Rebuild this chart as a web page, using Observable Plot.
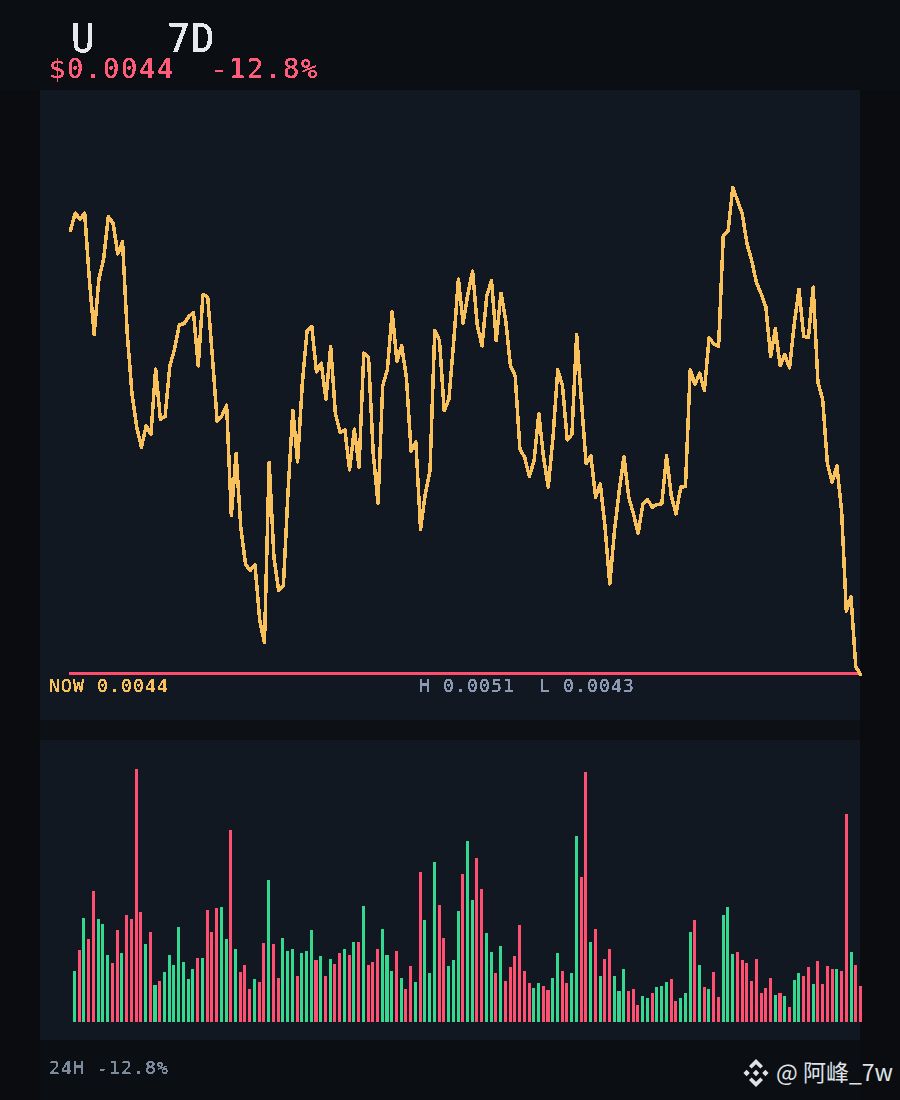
<!DOCTYPE html>
<html lang="en">
<head>
<meta charset="utf-8">
<title>U 7D</title>
<script src="https://cdn.jsdelivr.net/npm/d3@7"></script>
<script src="https://cdn.jsdelivr.net/npm/@observablehq/plot@0.6"></script>
<style>
html,body{margin:0;padding:0;background:#0b0e13;}
#page{position:relative;width:900px;height:1100px;overflow:hidden;background:#0b0e13;}
.gap{position:absolute;left:40px;top:720px;width:820px;height:20px;background:#0d1014;}
.side{position:absolute;top:90px;width:40px;height:1010px;background:#0a0c10;}
.panel{position:absolute;left:40px;}
.panel svg{display:block;overflow:visible;}
.t{position:absolute;white-space:pre;font-family:"DejaVu Sans Mono",monospace;filter:url(#pixel);line-height:0.85;}
#wm{position:absolute;left:776px;top:1056px;font-family:"Noto Sans CJK SC","Noto Sans",sans-serif;font-size:23px;line-height:30px;color:#dfe3e8;white-space:pre;}
#logo{position:absolute;left:742px;top:1059px;}
</style>
</head>
<body>
<div id="page">
<svg width="0" height="0" style="position:absolute"><filter id="pixel" x="-10%" y="-20%" width="120%" height="140%" color-interpolation-filters="sRGB"><feComponentTransfer><feFuncA type="discrete" tableValues="0 1 1 1"/></feComponentTransfer></filter></svg>
<div class="side" style="left:0"></div><div class="side" style="left:860px"></div><div class="gap"></div>
<div id="price" class="panel" style="top:90px"></div>
<div id="volume" class="panel" style="top:740px"></div>
<svg id="logo" width="28" height="28" viewBox="-14 -14 28 28" fill="#dfe3e8"><path d="M0-14 7-7 4.4-4.4 0-8.8-4.4-4.4-7-7ZM-9.4-3.2-6.2 0-9.4 3.2-12.6 0ZM9.4-3.2 12.6 0 9.4 3.2 6.2 0ZM0-3.2 3.2 0 0 3.2-3.2 0ZM-7 7-4.4 4.4 0 8.8 4.4 4.4 7 7 0 14Z"/></svg>
<div id="wm"></div>
</div>
<script>
// close price, in millionths of a USD
const prices = [5016,5042,5033,5042,4941,4860,4943,4973,5037,5027,4981,4999,4861,4771,4721,4691,4723,4710,4808,4733,4737,4813,4838,4875,4876,4887,4893,4813,4920,4916,4826,4730,4738,4754,4589,4682,4571,4515,4506,4515,4431,4398,4668,4526,4476,4483,4626,4746,4669,4786,4865,4872,4804,4817,4763,4842,4741,4713,4717,4657,4718,4661,4832,4826,4681,4607,4783,4808,4894,4820,4843,4796,4685,4699,4568,4621,4656,4866,4851,4746,4763,4848,4943,4877,4921,4955,4873,4843,4918,4941,4851,4922,4881,4813,4798,4688,4676,4647,4671,4741,4676,4631,4706,4807,4783,4702,4710,4860,4761,4666,4678,4616,4636,4571,4486,4566,4626,4677,4616,4591,4562,4606,4612,4601,4605,4606,4678,4618,4591,4631,4632,4807,4785,4802,4776,4855,4846,4842,5009,5015,5080,5061,5041,4996,4971,4938,4921,4901,4827,4869,4813,4830,4810,4876,4928,4857,4856,4931,4788,4763,4666,4638,4663,4596,4445,4466,4362,4350];
// traded volume, arbitrary units
const volumes = [153,216,312,249,393,309,294,201,177,276,207,321,309,759,330,234,270,111,123,150,201,171,285,180,129,159,192,192,336,270,342,345,249,576,219,150,171,99,129,120,237,426,234,132,252,213,219,138,207,213,276,186,198,138,189,174,207,219,201,240,240,348,171,180,219,279,201,153,213,132,99,168,120,450,306,147,480,351,252,168,186,333,444,543,366,492,399,267,210,147,228,123,165,198,291,153,117,102,117,108,96,132,207,153,117,147,558,435,750,240,279,138,189,219,138,93,159,93,99,51,78,72,87,105,108,120,129,63,72,87,270,306,171,105,99,150,75,321,345,204,210,186,177,123,189,87,102,132,81,87,78,45,126,147,138,165,114,183,114,168,159,159,153,624,210,171,108];
const nowPrice = 4350;

const titleText = "U   7D";
const priceText = "$0.0044";
const changeText = "-12.8%";
const nowText = "NOW 0.0044";
const rangeText = "H 0.0051  L 0.0043";
const footerText = "24H -12.8%";
const watermarkText = "@ 阿峰_7w";

const colors = {line:"#f8c15c", rule:"#ff4d6d", up:"#34d98f", down:"#ff5072", panel:"#121821", title:"#e6e9ed", red:"#ff5c7a", gray:"#8b9ab3", foot:"#7c8a9e"};

const priceRows = prices.map((p,i)=>({i,p}));
const volumeRows = volumes.map((v,i)=>({i,v,up:prices[i+1]>=prices[i]}));

document.getElementById("price").append(Plot.plot({
  width:820,height:630,margin:0,
  style:{background:colors.panel},
  x:{axis:null,domain:[0,167],range:[30,820]},
  y:{axis:null,domain:[4281,5226],range:[630,0]},
  marks:[
    Plot.ruleY([nowPrice],{x1:-0.2,x2:167,dy:-1,stroke:colors.rule,strokeWidth:3.2,shapeRendering:"crispEdges"}),
    Plot.line(priceRows,{x:"i",y:"p",stroke:colors.line,strokeWidth:3.5,shapeRendering:"crispEdges"})
  ]
}));

document.getElementById("volume").append(Plot.plot({
  width:820,height:300,margin:0,
  style:{background:colors.panel},
  x:{axis:null,type:"band",domain:d3.range(volumes.length),range:[33,822],paddingInner:0.36,paddingOuter:0,round:false},
  y:{axis:null,domain:[-54,846],range:[300,0]},
  marks:[
    Plot.barY(volumeRows,{x:"i",y1:0,y2:"v",fill:d=>d.up?colors.up:colors.down,shapeRendering:"crispEdges"})
  ]
}));

function label(text,x,baseline,size,adv,color){
  const el=document.createElement("div");
  el.className="t";el.textContent=text;
  el.style.cssText=`left:${x}px;top:${baseline-size*0.771}px;font-size:${size}px;letter-spacing:${adv-size*0.602}px;color:${color}`;
  document.getElementById("page").append(el);
}
label(titleText,71,52,39,24,colors.title);
label(priceText,49,79,27,18,colors.red);
label(changeText,211,79,27,18,colors.red);
label(nowText,49,692,18,12,colors.line);
label(rangeText,419,692,18,12,colors.gray);
label(footerText,49,1074,18,12,colors.foot);
document.getElementById("wm").textContent=watermarkText;
</script>
</body>
</html>
